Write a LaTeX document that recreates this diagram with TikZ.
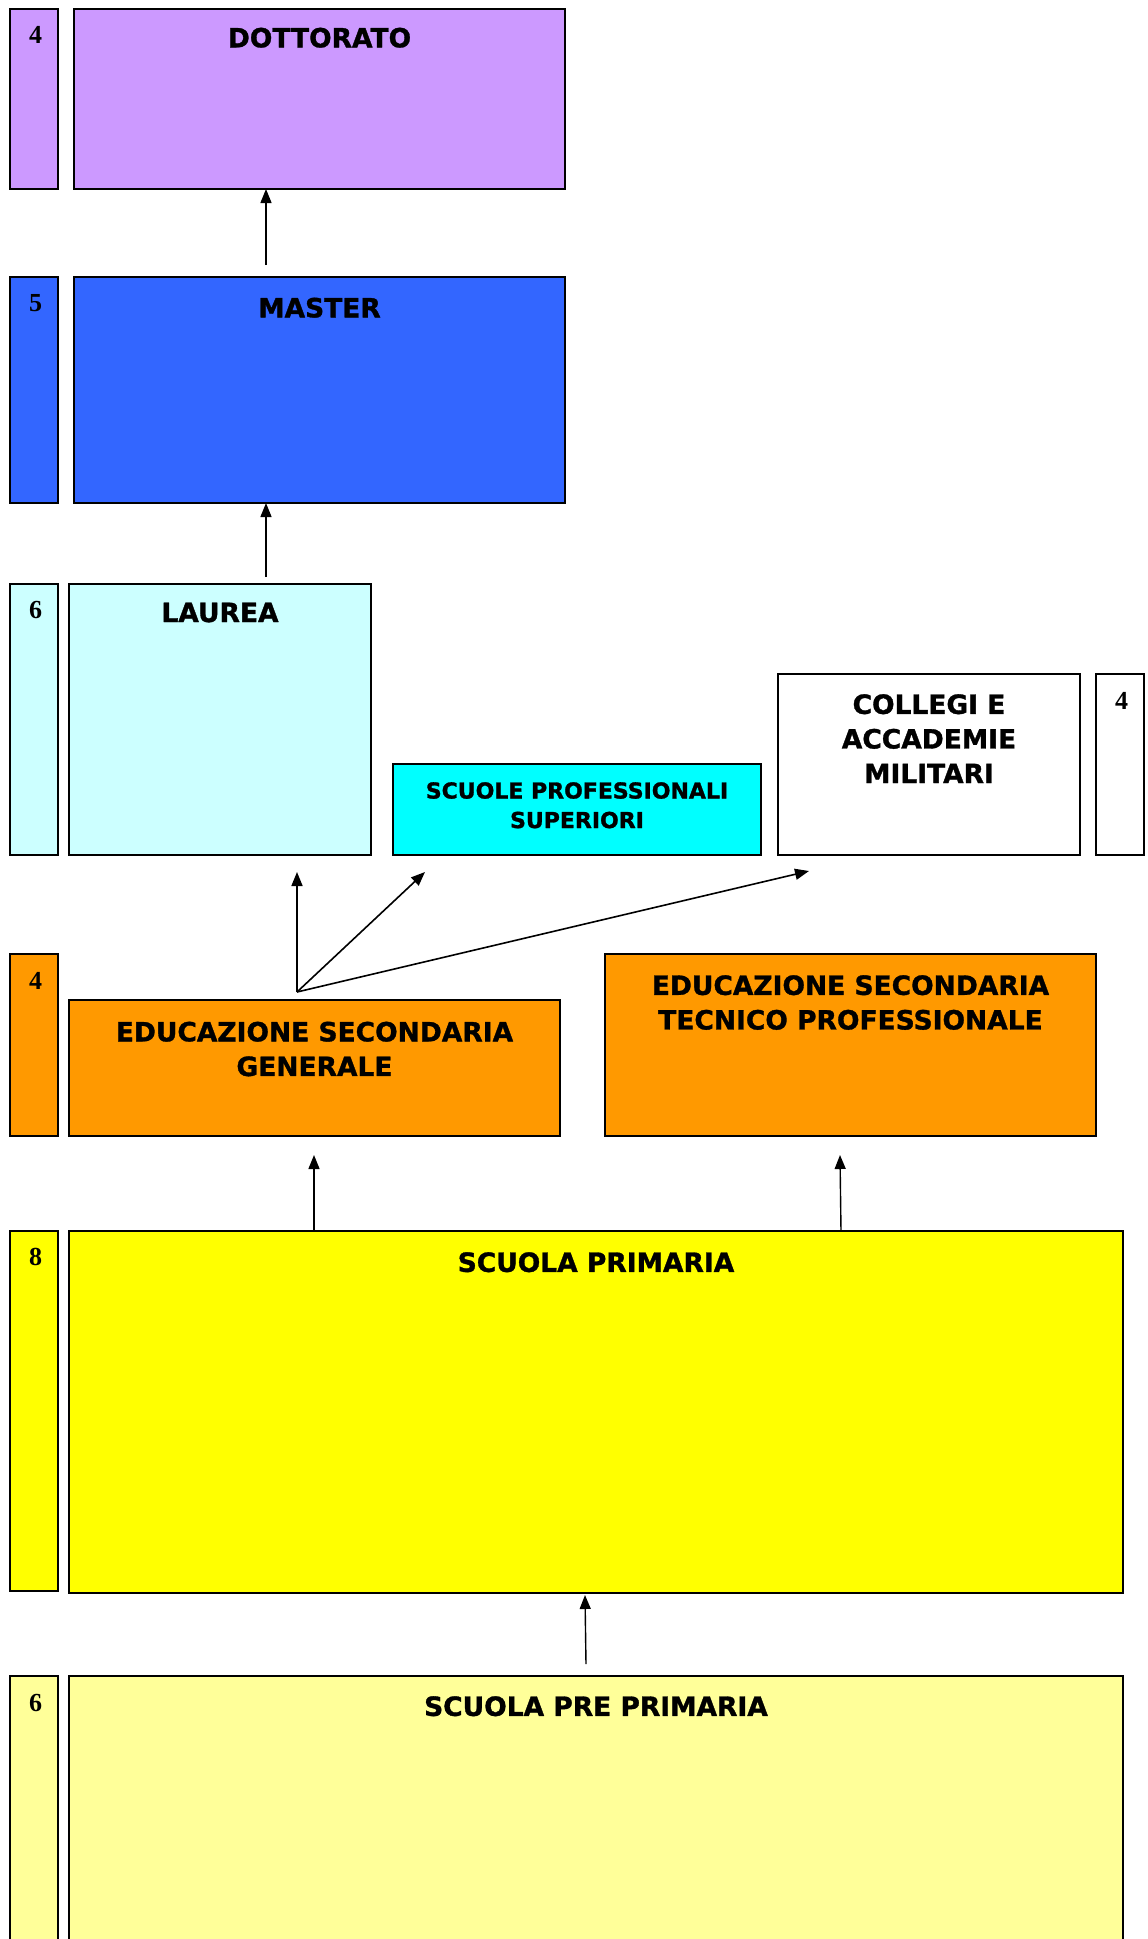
\documentclass[tikz,border=0pt]{standalone}
\usepackage{fontspec}
\setmainfont{Liberation Serif}
\newfontfamily\boxfont{DejaVu Sans}[BoldFeatures={FakeBold=1.2}]
\usetikzlibrary{arrows.meta}
\definecolor{cDott}{HTML}{CC99FF}
\definecolor{cMast}{HTML}{3366FF}
\definecolor{cLaur}{HTML}{CCFFFF}
\definecolor{cScuo}{HTML}{00FFFF}
\definecolor{cOran}{HTML}{FF9900}
\definecolor{cYell}{HTML}{FFFF00}
\definecolor{cPale}{HTML}{FFFF99}
\tikzset{
  box/.style={draw=black, line width=1.8pt, inner sep=0pt, outer sep=0pt, anchor=north west},
  ttl/.style={font=\boxfont\bfseries\fontsize{26.5}{34.6}\selectfont, align=center, anchor=north, inner sep=0pt},
  ttlsmall/.style={font=\boxfont\bfseries\fontsize{22}{29.5}\selectfont, align=center, anchor=north, inner sep=0pt},
  num/.style={font=\bfseries\fontsize{26}{28}\selectfont, anchor=north, inner sep=0pt},
  arr/.style={line width=1.4pt, -{Triangle[length=14pt,width=11pt]}},
  fan/.style={line width=1.6pt, -{Triangle[length=14pt,width=11pt]}}
}
\begin{document}
\begin{tikzpicture}[x=1pt,y=-1pt]
\useasboundingbox (0,0) rectangle (1148,1939);
\clip (0,0) rectangle (1148,1939);
% DOTTORATO
\node[box, fill=cDott, minimum width=48pt, minimum height=180pt] (ndott) at (10,9) {};
\node[box, fill=cDott, minimum width=491pt, minimum height=180pt] (dott) at (74,9) {};
\node[num] (ndottt) at ([xshift=1.5pt,yshift=-17pt]ndott.north) {4};
\node[ttl] (tdott) at ([yshift=-18.5pt]dott.north) {DOTTORATO};
% MASTER
\node[box, fill=cMast, minimum width=48pt, minimum height=226pt] (nmast) at (10,277) {};
\node[box, fill=cMast, minimum width=491pt, minimum height=226pt] (mast) at (74,277) {};
\node[num] (nmastt) at ([xshift=1.5pt,yshift=-17pt]nmast.north) {5};
\node[ttl] (tmast) at ([yshift=-20.5pt]mast.north) {MASTER};
% LAUREA
\node[box, fill=cLaur, minimum width=48pt, minimum height=271pt] (nlaur) at (10,584) {};
\node[box, fill=cLaur, minimum width=302pt, minimum height=271pt] (laur) at (69,584) {};
\node[num] (nlaurt) at ([xshift=1.5pt,yshift=-17pt]nlaur.north) {6};
\node[ttl] (tlaur) at ([yshift=-18.5pt]laur.north) {LAUREA};
% SCUOLE PROFESSIONALI SUPERIORI
\node[box, fill=cScuo, minimum width=368pt, minimum height=91pt] (scuo) at (393,764) {};
\node[ttlsmall] (tscuo) at ([yshift=-18pt]scuo.north) {SCUOLE PROFESSIONALI\\SUPERIORI};
% COLLEGI
\node[box, fill=white, minimum width=302pt, minimum height=181pt] (coll) at (778,674) {};
\node[box, fill=white, minimum width=48pt, minimum height=181pt] (ncoll) at (1096,674) {};
\node[ttl] (tcoll) at ([yshift=-20pt]coll.north) {COLLEGI E\\ACCADEMIE\\MILITARI};
\node[num] (ncollt) at ([xshift=1.5pt,yshift=-18pt]ncoll.north) {4};
% EDUCAZIONE SECONDARIA
\node[box, fill=cOran, minimum width=48pt, minimum height=182pt] (nedu) at (10,954) {};
\node[box, fill=cOran, minimum width=491pt, minimum height=136pt] (edug) at (69,1000) {};
\node[box, fill=cOran, minimum width=491pt, minimum height=182pt] (edut) at (605,954) {};
\node[num] (nedut) at ([xshift=1.5pt,yshift=-18pt]nedu.north) {4};
\node[ttl] (tedug) at ([yshift=-21.5pt]edug.north) {EDUCAZIONE SECONDARIA\\GENERALE};
\node[ttl] (tedut) at ([yshift=-21pt]edut.north) {EDUCAZIONE SECONDARIA\\TECNICO PROFESSIONALE};
% SCUOLA PRIMARIA
\node[box, fill=cYell, minimum width=48pt, minimum height=360pt] (nprim) at (10,1231) {};
\node[box, fill=cYell, minimum width=1054pt, minimum height=362pt] (prim) at (69,1231) {};
\node[num] (nprimt) at ([xshift=1.5pt,yshift=-17pt]nprim.north) {8};
\node[ttl] (tprim) at ([yshift=-21pt]prim.north) {SCUOLA PRIMARIA};
% SCUOLA PRE PRIMARIA
\node[box, fill=cPale, minimum width=48pt, minimum height=300pt] (npre) at (10,1676) {};
\node[box, fill=cPale, minimum width=1054pt, minimum height=300pt] (pre) at (69,1676) {};
\node[num] (npret) at ([xshift=1.5pt,yshift=-18pt]npre.north) {6};
\node[ttl] (tpre) at ([yshift=-20pt]pre.north) {SCUOLA PRE PRIMARIA};
% arrows
\coordinate (a1) at (266,265);
\draw[arr] (a1) -- (a1 |- dott.south);
\coordinate (a2) at (266,577);
\draw[arr] (a2) -- (a2 |- mast.south);
\coordinate (f0) at (297,992);
\coordinate (f1) at (297,872);
\coordinate (f2) at (425,872);
\coordinate (f3) at (809,871);
\draw[fan] (f0) -- (f1);
\draw[fan] (f0) -- (f2);
\draw[fan] (f0) -- (f3);
\coordinate (b1s) at (314,1231);
\coordinate (b1e) at (314,1155);
\draw[arr] (b1s) -- (b1e);
\coordinate (b2s) at (841,1231);
\coordinate (b2e) at (840,1155);
\draw[arr] (b2s) -- (b2e);
\coordinate (c1) at (586,1664);
\draw[arr] (c1) -- (585,1595);
\end{tikzpicture}
\end{document}
